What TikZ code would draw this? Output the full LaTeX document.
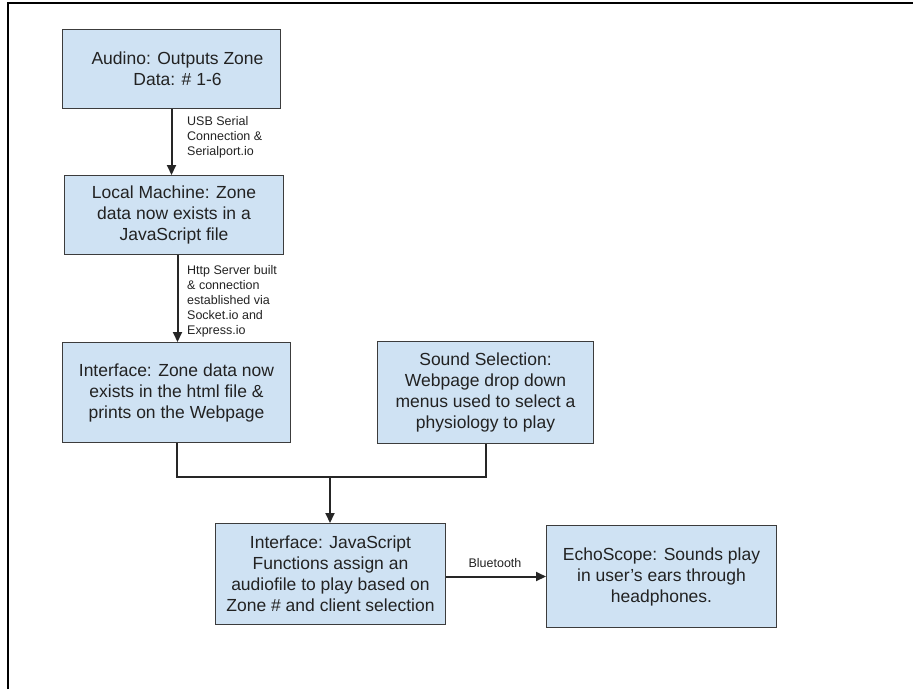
\documentclass[tikz,border=0pt]{standalone}
\usepackage{fontspec}
\setmainfont{Liberation Sans}
\usetikzlibrary{arrows.meta}
\definecolor{boxblue}{HTML}{CFE2F3}
\definecolor{boxline}{HTML}{3C3C3C}
\definecolor{txt}{HTML}{222222}
\tikzset{
  box/.style={draw=boxline, fill=boxblue, line width=1pt, align=center,
    inner sep=0pt, anchor=north west, text=txt,
    font=\fontsize{17.5}{21}\selectfont},
  lbl/.style={align=left, inner sep=0pt, text=txt, font=\fontsize{12.5}{15}\selectfont},
  conn/.style={draw=black!85, line width=2pt},
  arr/.style={conn, -{Triangle[length=10pt,width=9pt]}}
}
\begin{document}
\begin{tikzpicture}[x=1pt,y=-1pt]
\useasboundingbox (0,0) rectangle (913,689);
\draw[line width=1.2pt, black] (8,689) -- (8,3) -- (913,3);

\node[box, minimum width=218pt, minimum height=79pt] (b1) at (62,29)
  {\hspace*{12pt}Audino: Outputs Zone\\\hspace*{12pt}Data: \# 1-6};
\node[box, minimum width=219pt, minimum height=79pt] (b2) at (64,175)
  {Local Machine: Zone\\data now exists in a\\JavaScript file};
\node[box, minimum width=228pt, minimum height=100pt] (b3) at (62,342)
  {Interface: Zone data now\\exists in the html file \&\\prints on the Webpage};
\node[box, minimum width=216pt, minimum height=102pt] (snd) at (377,341)
  {Sound Selection:\\Webpage drop down\\menus used to select a\\physiology to play};
\node[box, minimum width=230pt, minimum height=101pt] (b4) at (215,523)
  {Interface: JavaScript\\Functions assign an\\audiofile to play based on\\Zone \# and client selection};
\node[box, minimum width=230pt, minimum height=102pt] (b5) at (546,525)
  {EchoScope: Sounds play\\in user’s ears through\\headphones.};

\draw[arr] (b1.south) -- (b1.south |- b2.north);
\node[lbl, anchor=west] (l1) at (187,137.5) {USB Serial\\Connection \&\\Serialport.io};

\draw[arr] ([xshift=3.5pt]b2.south) -- ([xshift=3.5pt]b2.south |- b3.north);
\node[lbl, anchor=west] (l2) at (187,301.5) {Http Server built\\\& connection\\established via\\Socket.io and\\Express.io};

\coordinate (m) at (330,477);
\draw[conn] (b3.south) |- (snd.south |- m) -- (snd.south);
\draw[arr] (m) -- (m |- b4.north);

\draw[arr] (b4.east |- b5.west) -- (b5.west);
\node[lbl] (l3) at (495,563) {Bluetooth};
\end{tikzpicture}
\end{document}
